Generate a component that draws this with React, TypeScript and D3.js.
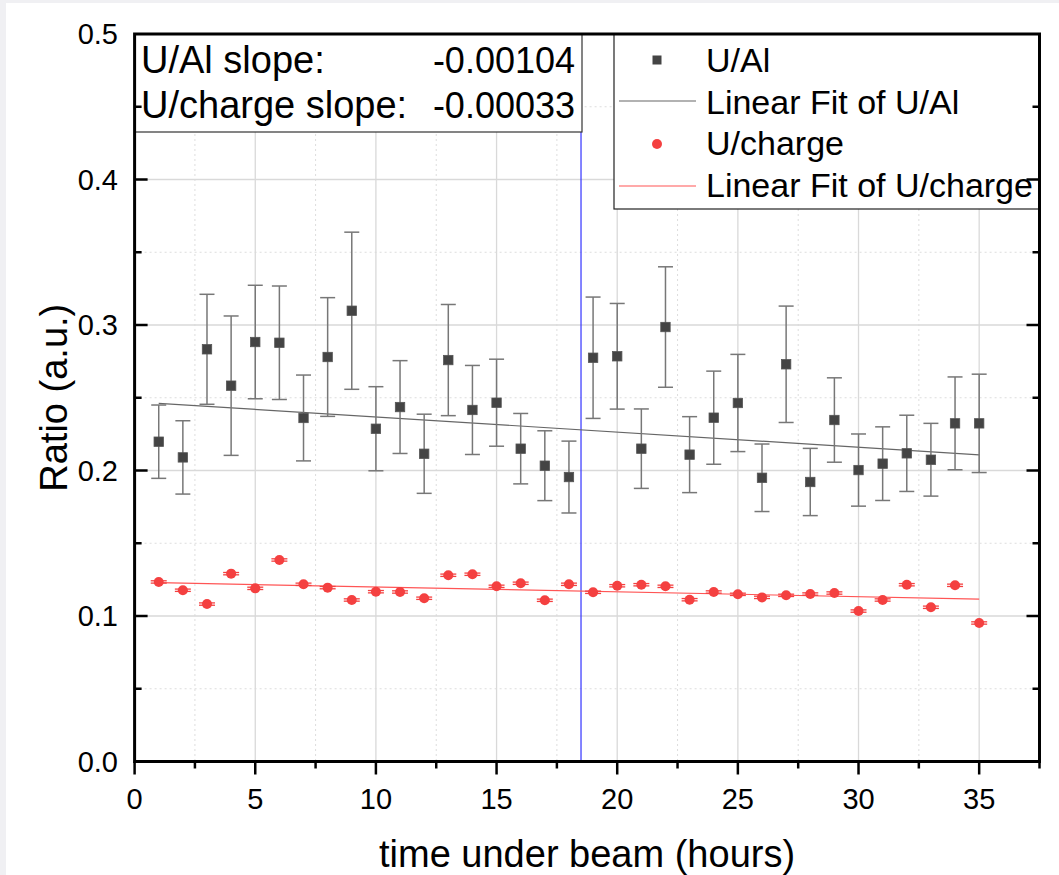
import React from "react";
import * as d3 from "d3";

const hours = [1,2,3,4,5,6,7,8,9,10,11,12,13,14,15,16,17,18,19,20,21,22,23,24,25,26,27,28,29,30,31,32,33,34,35];
const uAl = [0.2198,0.209,0.2833,0.2583,0.2883,0.2878,0.2361,0.278,0.3098,0.2287,0.2436,0.2115,0.2759,0.2416,0.2466,0.215,0.2033,0.1955,0.2775,0.2785,0.215,0.2986,0.2109,0.2363,0.2464,0.195,0.273,0.1921,0.2347,0.2003,0.2047,0.2118,0.2074,0.2324,0.2324];
const uAlErr = [0.0252,0.0252,0.0378,0.0479,0.039,0.039,0.0295,0.0408,0.054,0.0289,0.0319,0.0272,0.0382,0.0306,0.0299,0.0242,0.024,0.0247,0.0417,0.0363,0.0273,0.0414,0.0261,0.032,0.0334,0.0232,0.04,0.0231,0.029,0.0248,0.0253,0.0262,0.025,0.0319,0.0338];
const uCharge = [0.1234,0.1177,0.1082,0.1291,0.119,0.1385,0.1218,0.1195,0.111,0.1167,0.1165,0.1122,0.128,0.1287,0.1204,0.1225,0.1108,0.1218,0.1163,0.1208,0.1215,0.1204,0.1112,0.1165,0.1149,0.1128,0.1142,0.1151,0.1158,0.1034,0.111,0.1215,0.106,0.1211,0.0952];
const uChargeErr = 0.0008;

const fitUAl = { intercept: 0.2472, slope: -0.00104 };
const fitUCharge = { intercept: 0.1232, slope: -0.00033 };
const markerX = 18.5;

const xMajor = [0,5,10,15,20,25,30,35];
const xMinor = [2.5,7.5,12.5,17.5,22.5,27.5,32.5,37.5];
const yMajor = [0,0.1,0.2,0.3,0.4,0.5];
const yMinor = [0.05,0.15,0.25,0.35,0.45];

const slopeLabels = ["U/Al slope:", "U/charge slope:"];
const slopeValues = ["-0.00104", "-0.00033"];
const legendLabels = ["U/Al", "Linear Fit of U/Al", "U/charge", "Linear Fit of U/charge"];

const FONT = "'Liberation Sans', Arial, sans-serif";

export default function App() {
  const W = 1059, H = 875;
  const L = 134.6, R = 1039.5, T = 34, B = 761.5;
  const x = d3.scaleLinear().domain([0, 37.5]).range([L, R]);
  const y = d3.scaleLinear().domain([0, 0.5]).range([B, T]);
  const black = "#444444";
  const red = "#f44040";
  const fitLine = (f: { intercept: number; slope: number }) =>
    d3.line<number>().x((d) => x(d)).y((d) => y(f.intercept + f.slope * d))([hours[0], hours[hours.length - 1]]) || "";

  return (
    <svg width={W} height={H} style={{ position: "absolute", left: 0, top: 0 }} fontFamily={FONT}>
      <rect x={0} y={0} width={W} height={H} fill="#f0f0f3" />
      <rect x={6} y={3} width={W - 6} height={H - 3} fill="#ffffff" />

      {/* grid */}
      {xMinor.filter((v) => v < 37.5).map((v) => (
        <line key={"xm" + v} x1={x(v)} x2={x(v)} y1={T} y2={B} stroke="#dddddd" strokeWidth={1} strokeDasharray="2,3" />
      ))}
      {yMinor.map((v) => (
        <line key={"ym" + v} x1={L} x2={R} y1={y(v)} y2={y(v)} stroke="#dddddd" strokeWidth={1} strokeDasharray="2,3" />
      ))}
      {xMajor.filter((v) => v > 0).map((v) => (
        <line key={"xg" + v} x1={x(v)} x2={x(v)} y1={T} y2={B} stroke="#d9d9d9" strokeWidth={1.3} />
      ))}
      {yMajor.filter((v) => v > 0 && v < 0.5).map((v) => (
        <line key={"yg" + v} x1={L} x2={R} y1={y(v)} y2={y(v)} stroke="#d9d9d9" strokeWidth={1.3} />
      ))}

      {/* marker line */}
      <line x1={x(markerX)} x2={x(markerX)} y1={B} y2={T} stroke="#3333ff" strokeWidth={1.2} />

      {/* fit lines */}
      <path d={fitLine(fitUAl)} stroke="#666666" strokeWidth={1.2} fill="none" />
      <path d={fitLine(fitUCharge)} stroke="#ff5555" strokeWidth={1.2} fill="none" />

      {/* U/Al error bars and squares */}
      {hours.map((h, i) => {
        const cx = x(h);
        const yt = y(uAl[i] + uAlErr[i]);
        const yb = y(uAl[i] - uAlErr[i]);
        return (
          <g key={"e" + h} stroke="#777777" strokeWidth={1.5}>
            <line x1={cx} x2={cx} y1={yt} y2={yb} />
            <line x1={cx - 7.5} x2={cx + 7.5} y1={yt} y2={yt} />
            <line x1={cx - 7.5} x2={cx + 7.5} y1={yb} y2={yb} />
          </g>
        );
      })}
      {hours.map((h, i) => (
        <rect key={"s" + h} x={x(h) - 4.7} y={y(uAl[i]) - 4.7} width={9.4} height={9.4} fill={black} stroke="#555555" strokeWidth={0.8} />
      ))}

      {/* U/charge */}
      {hours.map((h, i) => {
        const cx = x(h);
        const yt = y(uCharge[i] + uChargeErr);
        const yb = y(uCharge[i] - uChargeErr);
        return (
          <g key={"ce" + h} stroke={red} strokeWidth={1.3}>
            <line x1={cx - 8} x2={cx + 8} y1={yt} y2={yt} />
            <line x1={cx - 8} x2={cx + 8} y1={yb} y2={yb} />
          </g>
        );
      })}
      {hours.map((h, i) => (
        <circle key={"c" + h} cx={x(h)} cy={y(uCharge[i])} r={5} fill={red} />
      ))}

      {/* slope text box */}
      <rect x={L} y={T} width={582 - L} height={132 - T} fill="#ffffff" stroke="#333333" strokeWidth={1.2} />
      {slopeLabels.map((s, i) => (
        <g key={"sl" + i}>
          <text x={141} y={73 + i * 45} fontSize={38} fill="#000">{s}</text>
          <text x={575} y={73 + i * 45} fontSize={36} fill="#000" textAnchor="end">{slopeValues[i]}</text>
        </g>
      ))}

      {/* legend */}
      <rect x={614} y={T} width={R - 614} height={209 - T} fill="#ffffff" stroke="#222222" strokeWidth={1.2} />
      <rect x={657 - 4.5} y={60 - 4.5} width={9} height={9} fill={black} />
      <line x1={619} x2={696} y1={101} y2={101} stroke="#666666" strokeWidth={1.2} />
      <circle cx={657} cy={144} r={5} fill={red} />
      <line x1={619} x2={696} y1={186} y2={186} stroke="#ff5555" strokeWidth={1.2} />
      {legendLabels.map((s, i) => (
        <text key={"lg" + i} x={706} y={72 + i * 41.7} fontSize={34} fill="#000">{s}</text>
      ))}

      {/* frame */}
      <rect x={L} y={T} width={R - L} height={B - T} fill="none" stroke="#000" strokeWidth={3} />

      {/* bottom ticks */}
      {xMajor.map((v) => (
        <line key={"bt" + v} x1={x(v)} x2={x(v)} y1={B} y2={B + 13} stroke="#000" strokeWidth={2.5} />
      ))}
      {xMinor.map((v) => (
        <line key={"bm" + v} x1={x(v)} x2={x(v)} y1={B} y2={B + 7} stroke="#000" strokeWidth={2.5} />
      ))}
      {xMajor.map((v) => (
        <text key={"bl" + v} x={x(v)} y={809} fontSize={29} textAnchor="middle" fill="#000">{d3.format("d")(v)}</text>
      ))}

      {/* left & right ticks (inward) */}
      {yMajor.filter((v) => v > 0 && v < 0.5).map((v) => (
        <g key={"lt" + v} stroke="#000" strokeWidth={2.5}>
          <line x1={L} x2={L + 13} y1={y(v)} y2={y(v)} />
          <line x1={R} x2={R - 13} y1={y(v)} y2={y(v)} />
        </g>
      ))}
      {yMinor.map((v) => (
        <g key={"lm" + v} stroke="#000" strokeWidth={2.5}>
          <line x1={L} x2={L + 7} y1={y(v)} y2={y(v)} />
          <line x1={R} x2={R - 7} y1={y(v)} y2={y(v)} />
        </g>
      ))}
      {yMajor.map((v) => (
        <text key={"ll" + v} x={118} y={y(v)} dy="0.35em" fontSize={29} textAnchor="end" fill="#000">{d3.format(".1f")(v)}</text>
      ))}

      {/* axis titles */}
      <text x={(L + R) / 2} y={867} fontSize={38} textAnchor="middle" fill="#000">time under beam (hours)</text>
      <text transform={`translate(67,${(T + B) / 2}) rotate(-90)`} fontSize={38} textAnchor="middle" fill="#000">Ratio (a.u.)</text>
    </svg>
  );
}
